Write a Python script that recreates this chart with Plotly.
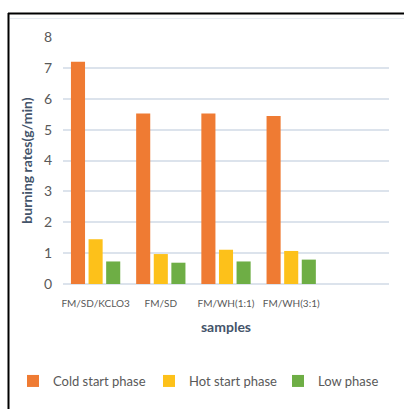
import plotly.graph_objects as go

categories = ["FM/SD/KCLO3", "FM/SD", "FM/WH(1:1)", "FM/WH(3:1)", " "]
cold_start = [7.2, 5.52, 5.52, 5.44]
hot_start = [1.45, 0.97, 1.11, 1.07]
low_phase = [0.73, 0.69, 0.73, 0.79]
y_ticks = [0, 1, 2, 3, 4, 5, 6, 7, 8]

W, H = 404, 409
L, R, T, B = 63, 15, 37, 125
pw, ph = W - L - R, H - T - B

def px_x(p):
    return (p - L) / pw

def px_y(p):
    return (H - B - p) / ph

fig = go.Figure()
fig.add_trace(go.Bar(name="Cold start phase", x=categories[:4], y=cold_start, legend="legend",
                     marker=dict(color="#EF7B33", line=dict(width=0))))
fig.add_trace(go.Bar(name="Hot start phase", x=categories[:4], y=hot_start, legend="legend2",
                     marker=dict(color="#FDC11A", line=dict(width=0))))
fig.add_trace(go.Bar(name="Low phase", x=categories[:4], y=low_phase, legend="legend3",
                     marker=dict(color="#6EAE45", line=dict(width=0))))

def leg(xpix):
    return dict(orientation="h", x=px_x(xpix), y=px_y(366), xanchor="left", yanchor="top",
                font=dict(size=13, color="#595959"), itemwidth=30,
                bgcolor="rgba(0,0,0,0)")

fig.update_layout(
    width=W, height=H,
    margin=dict(l=L, r=R, t=T, b=B, autoexpand=False),
    paper_bgcolor="white", plot_bgcolor="white",
    barmode="group", bargap=0.19, bargroupgap=0.2,
    font=dict(family="Lato", color="#595959"),
    xaxis=dict(type="category", categoryorder="array", categoryarray=categories,
               range=[-0.5, 4.5], showgrid=False, zeroline=False, showline=False,
               tickfont=dict(size=10, color="#595959"), ticks="", ticklabelstandoff=12,
               title=dict(text="<b>samples</b>", font=dict(size=14, color="#44546A"), standoff=14)),
    yaxis=dict(range=[0, 8], tickvals=y_ticks, showgrid=True, gridcolor="#DCE3EC", gridwidth=1.5,
               zeroline=True, zerolinecolor="#DCE3EC", zerolinewidth=1.5, showline=False,
               tickfont=dict(size=14, color="#595959"), ticklabelstandoff=10,
               title=dict(text="<b>burning rates(g/min)</b>", font=dict(size=14, color="#44546A"), standoff=7)),
    legend=leg(13),
    legend2=leg(149),
    legend3=leg(278),
    showlegend=True,
    shapes=[
        dict(type="line", xref="paper", yref="paper", x0=px_x(8), x1=px_x(404), y0=px_y(13.5), y1=px_y(13.5),
             line=dict(color="black", width=2)),
        dict(type="line", xref="paper", yref="paper", x0=px_x(8.5), x1=px_x(8.5), y0=px_y(13), y1=px_y(409),
             line=dict(color="black", width=2)),
        dict(type="line", xref="paper", yref="paper", x0=px_x(10), x1=px_x(404), y0=px_y(18.5), y1=px_y(18.5),
             line=dict(color="#E6EBF1", width=1)),
    ],
)

fig.write_html("out.html")
